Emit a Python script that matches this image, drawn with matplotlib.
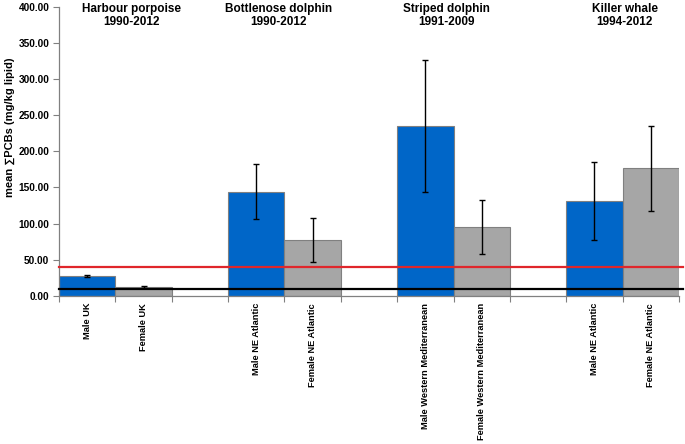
import matplotlib
matplotlib.use("Agg")
import matplotlib.pyplot as plt
import numpy as np

plt.rcParams['font.family'] = ['Liberation Sans', 'DejaVu Sans']

# ---- data ----
group_titles = ["Harbour porpoise\n1990-2012", "Bottlenose dolphin\n1990-2012",
                "Striped dolphin\n1991-2009", "Killer whale\n1994-2012"]
bar_labels = ["Male UK", "Female UK",
              "Male NE Atlantic", "Female NE Atlantic",
              "Male Western Mediterranean", "Female Western Mediterranean",
              "Male NE Atlantic", "Female NE Atlantic"]
means = [27.6, 12.5, 144.0, 77.3, 234.5, 95.8, 131.5, 176.5]
errors = [2.0, 2.0, 38.2, 30.6, 91.4, 37.2, 54.3, 58.5]
sexes = ["M", "F", "M", "F", "M", "F", "M", "F"]
threshold_red = 40.0
threshold_black = 9.5
yticks = [0, 50, 100, 150, 200, 250, 300, 350, 400]

# ---- layout ----
fig = plt.figure(figsize=(6.85, 4.44), dpi=100)
ax = fig.add_axes([59/685, 1-296/444, (679-59)/685, (296-6.5)/444])

n_slots = 11
positions = []
for i in range(len(means)):
    g, j = divmod(i, 2)
    positions.append(g*3 + j + 0.5)
positions = np.array(positions)

colors = ['#0066C8' if s == "M" else '#A6A6A6' for s in sexes]
ax.bar(positions, means, width=1.0, color=colors, edgecolor='#808080',
       linewidth=0.8, zorder=2)
ax.errorbar(positions, means, yerr=errors, fmt='none', ecolor='black',
            elinewidth=1.0, capsize=2.5, capthick=1.0, zorder=4)

ax.axhline(threshold_red, color='#E0262B', lw=1.6, xmin=0, xmax=1.007,
           clip_on=False, zorder=3)
ax.axhline(threshold_black, color='black', lw=1.6, xmin=0, xmax=1.007,
           clip_on=False, zorder=3)

ax.set_xlim(0, n_slots)
ax.set_ylim(0, 400)

for s in ['top', 'right']:
    ax.spines[s].set_visible(False)
for s in ['left', 'bottom']:
    ax.spines[s].set_color('#808080')
    ax.spines[s].set_linewidth(0.9)

ax.set_yticks(yticks)
ax.set_yticklabels([f"{v:.2f}" for v in yticks], fontsize=7.3, fontweight='bold')
ax.tick_params(axis='y', direction='out', length=4, color='#808080', pad=3)

ax.set_xticks(np.arange(0, n_slots + 1))
ax.set_xticklabels([])
ax.tick_params(axis='x', which='major', direction='out', length=4, color='#808080')
ax.set_xticks(positions, minor=True)
ax.set_xticklabels(bar_labels, minor=True, rotation=90, fontsize=6.7,
                   fontweight='bold', va='top', ha='center')
ax.tick_params(axis='x', which='minor', length=0, pad=5)

title_x = [1.29, 3.90, 6.87, 10.04]
for tx, t in zip(title_x, group_titles):
    ax.text(tx, 404.5, t, ha='center', va='top', fontsize=8.5, fontweight='bold',
            linespacing=1.1, clip_on=False)

fig.text(10/685, 1-127.5/444, "mean \u2211PCBs (mg/kg lipid)", rotation=90,
         ha='center', va='center', fontsize=8, fontweight='bold')

fig.savefig("out.png", dpi=100)
